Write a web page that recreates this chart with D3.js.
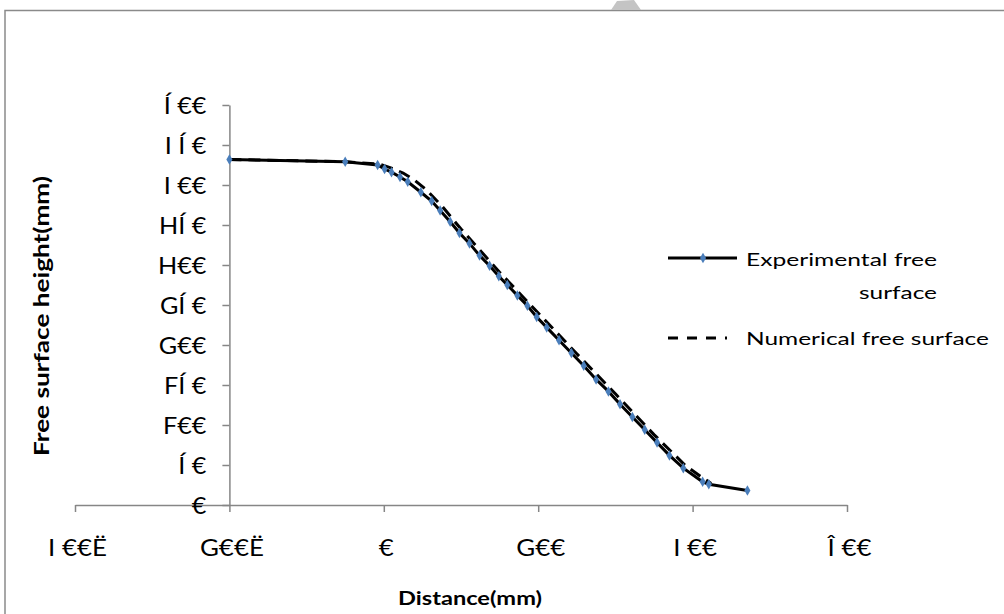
<!DOCTYPE html>
<html>
<head>
<meta charset="utf-8">
<script src="https://cdn.jsdelivr.net/npm/d3@7"></script>
<style>
  html, body { margin: 0; padding: 0; background: #fff; }
  svg { display: block; }
  text { font-family: Lato, "Liberation Sans", sans-serif; fill: #000; }
</style>
</head>
<body>
<svg id="chart" width="1004" height="614"></svg>
<script>
// Experimental free surface: distance (mm) and height (mm)
const expX = [-200, -50, -8, 1, 10, 21, 31, 48, 62, 73, 86, 98, 111, 124, 137, 149, 160, 173, 186, 198,
              211, 227, 243, 259, 275, 291, 306, 322, 338, 354, 370, 388, 413, 421, 471];
const expY = [432, 429, 425, 420, 416, 410, 404, 391, 380, 368, 354, 340, 327, 312, 299, 286, 275, 262, 249, 235,
              222, 206, 190, 174, 157, 142, 126, 110, 94, 78, 62, 46, 29, 26, 18];

// Numerical free surface
const numX = [-200, -50, -5, 10, 25, 40, 55, 75, 100, 150, 200, 250, 300, 350, 390, 410, 424];
const numY = [432, 429, 426, 421, 415, 406, 394, 374, 345, 291, 240, 189, 139, 88, 50, 36, 27];

// Axis ticks and their printed labels
const xTicks = [-400, -200, 0, 200, 400, 600];
const xTickLabels = ["I €€Ë", "G€€Ë", "€", "G€€", "I €€", "Î €€"];
const yTicks = [0, 50, 100, 150, 200, 250, 300, 350, 400, 450, 500];
const yTickLabels = ["€", "Í €", "F€€", "FÍ €", "G€€", "GÍ €", "H€€", "HÍ €", "I €€", "I Í €", "Í €€"];

const seriesNames = ["Experimental free", "surface", "Numerical free surface"];

const svg = d3.select("#chart");
const axisColor = "#868686";
const markerColor = "#4a7ebb";

// Widen glyphs horizontally around each text's anchor point
function widen(sel, s) {
  sel.each(function () {
    const t = d3.select(this);
    const tx = +t.attr("x") || 0, ty = +t.attr("y") || 0;
    t.attr("x", 0).attr("y", 0)
     .attr("transform", `translate(${tx},${ty}) scale(${s},1)`);
  });
}

// Frame around the chart area
svg.append("path")
  .attr("d", "M5,614 L5,10.5 L1004,10.5")
  .attr("fill", "none")
  .attr("stroke", "#8a8a8a")
  .attr("stroke-width", 1.5);

// small grey mark on the top edge
svg.append("path")
  .attr("d", "M611,10 L617,1 L634,0 L641,10 Z")
  .attr("fill", "#c4c4c4");

const x = d3.scaleLinear().domain([-400, 600]).range([75, 847]);
const y = d3.scaleLinear().domain([0, 500]).range([505, 105]);

// x axis (crosses at y = 0)
const xAxis = svg.append("g")
  .attr("transform", `translate(0,${y(0)})`)
  .call(d3.axisBottom(x).tickValues(xTicks).tickSize(7).tickSizeOuter(0)
        .tickFormat((d, i) => xTickLabels[i]));
xAxis.select(".domain").attr("stroke", axisColor).attr("stroke-width", 1.5);
xAxis.selectAll(".tick line").attr("stroke", axisColor).attr("stroke-width", 1.5);
xAxis.selectAll(".tick text")
  .attr("x", 2).attr("y", 51).attr("dy", null)
  .attr("font-size", 24)
  .style("font-family", "Lato, 'Liberation Sans', sans-serif")
  .call(widen, 1.08);

// y axis (crosses at x = -200)
const yAxis = svg.append("g")
  .attr("transform", `translate(${x(-200)},0)`)
  .call(d3.axisLeft(y).tickValues(yTicks).tickSize(7).tickSizeOuter(0)
        .tickFormat((d, i) => yTickLabels[i]));
yAxis.select(".domain").attr("stroke", axisColor).attr("stroke-width", 1.5);
yAxis.selectAll(".tick text")
  .attr("x", -23).attr("y", 8).attr("dy", null)
  .attr("font-size", 24)
  .style("font-family", "Lato, 'Liberation Sans', sans-serif")
  .call(widen, 1.05);
yAxis.selectAll(".tick line").attr("stroke", axisColor).attr("stroke-width", 1.5);

// Series
const expData = expX.map((d, i) => [d, expY[i]]);
const numData = numX.map((d, i) => [d, numY[i]]);
const line = d3.line().x(d => x(d[0])).y(d => y(d[1]));

svg.append("path")
  .datum(numData)
  .attr("d", line)
  .attr("fill", "none")
  .attr("stroke", "#000")
  .attr("stroke-width", 3)
  .attr("stroke-dasharray", "12,7");

svg.append("path")
  .datum(expData)
  .attr("d", line)
  .attr("fill", "none")
  .attr("stroke", "#000")
  .attr("stroke-width", 3);

const diamond = d3.symbol().type(d3.symbolDiamond).size(32);
svg.append("g").selectAll("path")
  .data(expData)
  .join("path")
  .attr("d", diamond)
  .attr("transform", d => `translate(${x(d[0])},${y(d[1])})`)
  .attr("fill", markerColor);

// Axis titles
svg.append("text")
  .attr("x", 470).attr("y", 605)
  .attr("text-anchor", "middle")
  .attr("font-size", 19).attr("font-weight", "bold")
  .attr("textLength", 144).attr("lengthAdjust", "spacingAndGlyphs")
  .text("Distance(mm)");

svg.append("text")
  .attr("transform", "translate(49,316) rotate(-90)")
  .attr("text-anchor", "middle")
  .attr("font-size", 21).attr("font-weight", "bold")
  .attr("textLength", 280).attr("lengthAdjust", "spacingAndGlyphs")
  .text("Free surface height(mm)");

// Legend
const legend = svg.append("g");
legend.append("line")
  .attr("x1", 668).attr("x2", 737).attr("y1", 258).attr("y2", 258)
  .attr("stroke", "#000").attr("stroke-width", 3);
legend.append("path")
  .attr("d", diamond)
  .attr("transform", "translate(703,258)")
  .attr("fill", markerColor);
legend.append("text")
  .attr("x", 746).attr("y", 266)
  .attr("font-size", 18)
  .attr("textLength", 191).attr("lengthAdjust", "spacingAndGlyphs")
  .text(seriesNames[0]);
legend.append("text")
  .attr("x", 859).attr("y", 299)
  .attr("font-size", 18)
  .attr("textLength", 78).attr("lengthAdjust", "spacingAndGlyphs")
  .text(seriesNames[1]);
legend.append("line")
  .attr("x1", 668).attr("x2", 727).attr("y1", 338).attr("y2", 338)
  .attr("stroke", "#000").attr("stroke-width", 3)
  .attr("stroke-dasharray", "10,9");
legend.append("text")
  .attr("x", 746).attr("y", 345)
  .attr("font-size", 18)
  .attr("textLength", 243).attr("lengthAdjust", "spacingAndGlyphs")
  .text(seriesNames[2]);
</script>
</body>
</html>
